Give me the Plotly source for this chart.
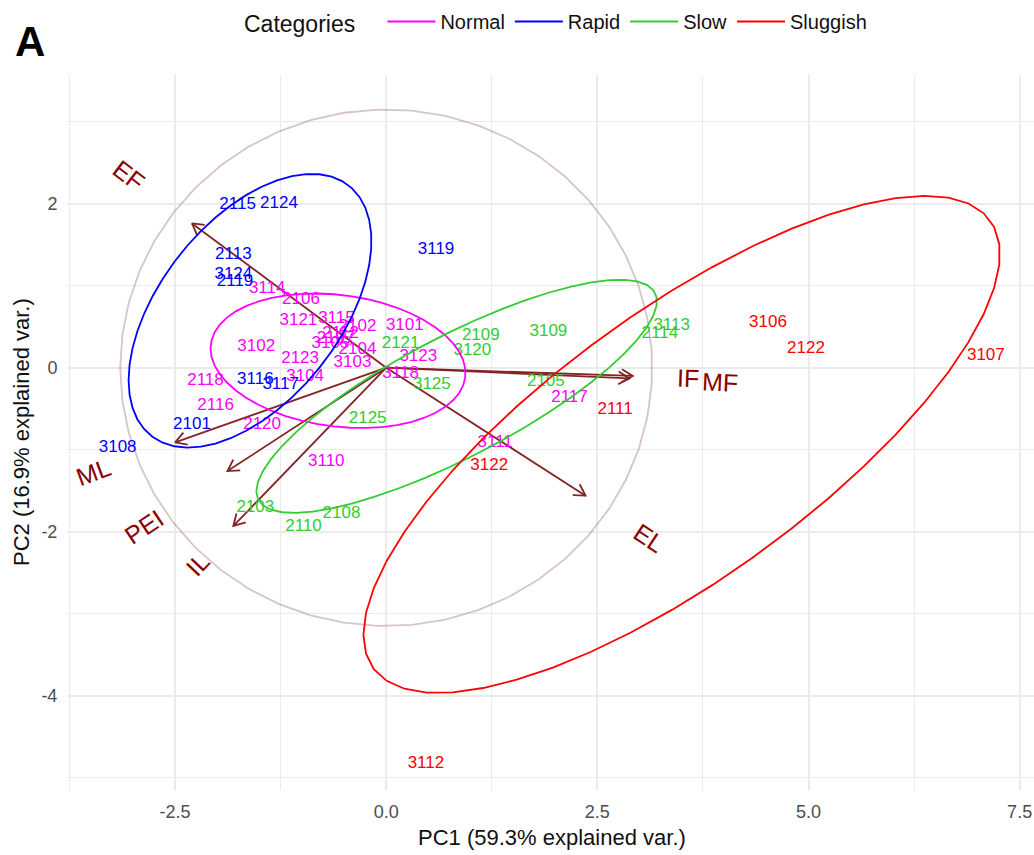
import numpy as np
import plotly.graph_objects as go

# ------------------------------------------------------------------ data
NORMAL_IDS = ["3114", "2106", "3121", "3115", "2102", "2112", "2107", "3105", "2104", "3103", "2123",
              "3104", "3101", "3102", "2118", "2116", "2120", "3118", "3123", "3110", "2117", "3111"]
NORMAL_PC1 = [-1.41, -1.01, -1.04, -0.59, -0.34, -0.54, -0.60, -0.66, -0.34, -0.40, -1.02,
              -0.96, 0.22, -1.54, -2.14, -2.02, -1.47, 0.17, 0.38, -0.71, 2.17, 1.29]
NORMAL_PC2 = [0.96, 0.83, 0.57, 0.60, 0.50, 0.41, 0.35, 0.29, 0.22, 0.06, 0.11,
              -0.11, 0.51, 0.26, -0.16, -0.46, -0.70, -0.07, 0.13, -1.15, -0.37, -0.91]

RAPID_IDS = ["2115", "2124", "2113", "3124", "2119", "3119", "3116", "3117", "2101", "3108"]
RAPID_PC1 = [-1.76, -1.27, -1.81, -1.81, -1.79, 0.59, -1.55, -1.25, -2.30, -3.18]
RAPID_PC2 = [1.99, 2.00, 1.38, 1.13, 1.05, 1.44, -0.15, -0.21, -0.70, -0.98]

SLOW_IDS = ["2109", "3109", "3120", "2121", "3125", "2105", "2125", "2103", "2108", "2110", "2114", "3113"]
SLOW_PC1 = [1.12, 1.92, 1.02, 0.17, 0.54, 1.89, -0.22, -1.55, -0.53, -0.98, 3.24, 3.38]
SLOW_PC2 = [0.39, 0.44, 0.21, 0.29, -0.21, -0.17, -0.62, -1.71, -1.78, -1.94, 0.41, 0.51]

SLUGGISH_IDS = ["3106", "2122", "3107", "2111", "3122", "3112"]
SLUGGISH_PC1 = [4.52, 4.97, 7.10, 2.71, 1.22, 0.47]
SLUGGISH_PC2 = [0.55, 0.23, 0.15, -0.51, -1.20, -4.83]

CATEGORIES = ["Normal", "Rapid", "Slow", "Sluggish"]

VAR_NAMES = ["EF", "ML", "PEI", "IL", "IF", "MF", "EL"]
VAR_PC1 = [-2.30, -2.50, -1.88, -1.81, 2.92, 2.88, 2.36]
VAR_PC2 = [1.76, -0.91, -1.26, -1.93, -0.10, -0.13, -1.56]

CIRCLE_RADIUS = 3.15

X_TICKS = [-2.5, 0.0, 2.5, 5.0, 7.5]
X_TICK_LABELS = ["-2.5", "0.0", "2.5", "5.0", "7.5"]
Y_TICKS = [-4, -2, 0, 2]
Y_TICK_LABELS = ["-4", "-2", "0", "2"]

X_TITLE = "PC1 (59.3% explained var.)"
Y_TITLE = "PC2 (16.9% explained var.)"
PANEL_TAG = "A"

# ------------------------------------------------------------------ style / layout
COLORS = {"Normal": "#FF00FF", "Rapid": "#0000FF", "Slow": "#33CC33", "Sluggish": "#FF0000"}
FONT = "Liberation Sans, Arial, sans-serif"
W, H = 1034, 855
M_L, M_R, M_T, M_B = 67, 0, 75, 65
X_RANGE = [-3.78, 7.67]
Y_RANGE = [-5.15, 3.57]
SX = (W - M_L - M_R) / (X_RANGE[1] - X_RANGE[0])   # px per x unit
SY = (H - M_T - M_B) / (Y_RANGE[1] - Y_RANGE[0])   # px per y unit

ARROW_COLOR = "#832424"
VARNAME_COLOR = "#8B0000"
VAR_FONT = 25
VARNAME_ADJUST = 5.0
HEAD_LEN = 12.8
CHAR_W = {"E": 0.667, "F": 0.611, "M": 0.833, "L": 0.556, "P": 0.667, "I": 0.278}
ELLIPSE_PROB = 0.68


def px_to_paper(px, py):
    return (px - M_L) / (W - M_L - M_R), (H - M_B - py) / (H - M_T - M_B)


def ellipse(xs, ys, prob):
    xs = np.asarray(xs, float)
    ys = np.asarray(ys, float)
    theta = np.concatenate([np.linspace(-np.pi, np.pi, 50), np.linspace(np.pi, -np.pi, 50)])
    circ = np.column_stack([np.cos(theta), np.sin(theta)])
    sigma = np.cov(np.vstack([xs, ys]))
    mu = np.array([xs.mean(), ys.mean()])
    ed = np.sqrt(-2.0 * np.log(1.0 - prob))
    U = np.linalg.cholesky(sigma).T
    pts = circ @ U * ed + mu
    return pts[:, 0], pts[:, 1]


groups = {
    "Normal": (NORMAL_IDS, NORMAL_PC1, NORMAL_PC2),
    "Rapid": (RAPID_IDS, RAPID_PC1, RAPID_PC2),
    "Slow": (SLOW_IDS, SLOW_PC1, SLOW_PC2),
    "Sluggish": (SLUGGISH_IDS, SLUGGISH_PC1, SLUGGISH_PC2),
}

fig = go.Figure()

# correlation circle
th = np.linspace(-np.pi, np.pi, 50)
fig.add_trace(go.Scatter(x=CIRCLE_RADIUS * np.cos(th), y=CIRCLE_RADIUS * np.sin(th), mode="lines",
                         line=dict(color="rgba(140,90,90,0.35)", width=1.8),
                         showlegend=False, hoverinfo="skip"))

# variable arrows
ax_, ay_ = [], []
for vx, vy in zip(VAR_PC1, VAR_PC2):
    ax_ += [0, vx, None]
    ay_ += [0, vy, None]
    pxv, pyv = vx * SX, vy * SY
    L = np.hypot(pxv, pyv)
    ux, uy = pxv / L, pyv / L
    heads = []
    for s in (1, -1):
        a = np.radians(30) * s
        rx = ux * np.cos(a) - uy * np.sin(a)
        ry = ux * np.sin(a) + uy * np.cos(a)
        heads.append((vx - HEAD_LEN * rx / SX, vy - HEAD_LEN * ry / SY))
    ax_ += [heads[0][0], vx, heads[1][0], None]
    ay_ += [heads[0][1], vy, heads[1][1], None]
fig.add_trace(go.Scatter(x=ax_, y=ay_, mode="lines", line=dict(color=ARROW_COLOR, width=1.8),
                         showlegend=False, hoverinfo="skip"))

# observation labels
for cat in CATEGORIES:
    ids, xs, ys = groups[cat]
    fig.add_trace(go.Scatter(x=xs, y=ys, text=ids, mode="text", textposition="middle center",
                             textfont=dict(color=COLORS[cat], size=17, family=FONT),
                             showlegend=False, hoverinfo="text"))

# group ellipses
for cat in CATEGORIES:
    ids, xs, ys = groups[cat]
    ex, ey = ellipse(xs, ys, ELLIPSE_PROB)
    fig.add_trace(go.Scatter(x=ex, y=ey, mode="lines", line=dict(color=COLORS[cat], width=1.8),
                             showlegend=False, hoverinfo="skip"))

# legend entries
for cat in CATEGORIES:
    fig.add_trace(go.Scatter(x=[None], y=[None], mode="lines+text", text=["a"], name=cat,
                             line=dict(color=COLORS[cat], width=1.8),
                             textfont=dict(color=COLORS[cat], size=12, family=FONT)))

annotations = []
# variable names (ggbiplot style placement)
for name, vx, vy in zip(VAR_NAMES, VAR_PC1, VAR_PC2):
    ang = np.degrees(np.arctan(vy / vx))
    w = sum(CHAR_W[c] for c in name) * VAR_FONT
    off = np.sign(vx) * VARNAME_ADJUST / 2.0 * w
    cx = vx + off * np.cos(np.radians(ang)) / SX
    cy = vy + off * np.sin(np.radians(ang)) / SY
    annotations.append(dict(x=cx, y=cy, xref="x", yref="y", text=name, showarrow=False,
                            textangle=-ang, xanchor="center", yanchor="middle",
                            font=dict(color=VARNAME_COLOR, size=VAR_FONT, family=FONT)))

# axis titles and panel tag
xt = px_to_paper(552, 838)
annotations.append(dict(x=xt[0], y=xt[1], xref="paper", yref="paper", text=X_TITLE, showarrow=False,
                        xanchor="center", yanchor="middle", font=dict(size=22, color="#111", family=FONT)))
yt = px_to_paper(21, 432)
annotations.append(dict(x=yt[0], y=yt[1], xref="paper", yref="paper", text=Y_TITLE, showarrow=False,
                        textangle=-90, xanchor="center", yanchor="middle",
                        font=dict(size=22, color="#111", family=FONT)))
tg = px_to_paper(30, 42)
annotations.append(dict(x=tg[0], y=tg[1], xref="paper", yref="paper", text="<b>%s</b>" % PANEL_TAG,
                        showarrow=False, xanchor="center", yanchor="middle",
                        font=dict(size=42, color="black", family=FONT)))


def minor_vals(ticks, rng):
    step = ticks[1] - ticks[0]
    vals = [t - step / 2 for t in ticks] + [ticks[-1] + step / 2]
    return [v for v in vals if rng[0] <= v <= rng[1]]


grid = "#EBEBEB"
axis_common = dict(showline=False, zeroline=False, showgrid=True, gridcolor=grid, gridwidth=2,
                   ticks="outside", ticklen=5, tickcolor="rgba(0,0,0,0)",
                   tickfont=dict(size=18, color="#4D4D4D", family=FONT))
lg = px_to_paper(557, 22)
fig.update_layout(
    width=W, height=H,
    margin=dict(l=M_L, r=M_R, t=M_T, b=M_B, pad=0),
    plot_bgcolor="white", paper_bgcolor="white",
    font=dict(family=FONT),
    xaxis=dict(range=X_RANGE, tickmode="array", tickvals=X_TICKS, ticktext=X_TICK_LABELS,
               minor=dict(tickvals=minor_vals(X_TICKS, X_RANGE), showgrid=True, gridcolor=grid,
                          gridwidth=1), **axis_common),
    yaxis=dict(range=Y_RANGE, tickmode="array", tickvals=Y_TICKS, ticktext=Y_TICK_LABELS,
               minor=dict(tickvals=minor_vals(Y_TICKS, Y_RANGE), showgrid=True, gridcolor=grid,
                          gridwidth=1), **axis_common),
    legend=dict(orientation="h", x=lg[0], y=lg[1], xanchor="center", yanchor="middle",
                itemwidth=48, entrywidthmode="pixels",
                title=dict(text="Categories   ", side="left", font=dict(size=23, color="#111", family=FONT)),
                font=dict(size=20, color="#111", family=FONT), bgcolor="rgba(0,0,0,0)"),
    annotations=annotations,
)

fig.write_html("out.html")
